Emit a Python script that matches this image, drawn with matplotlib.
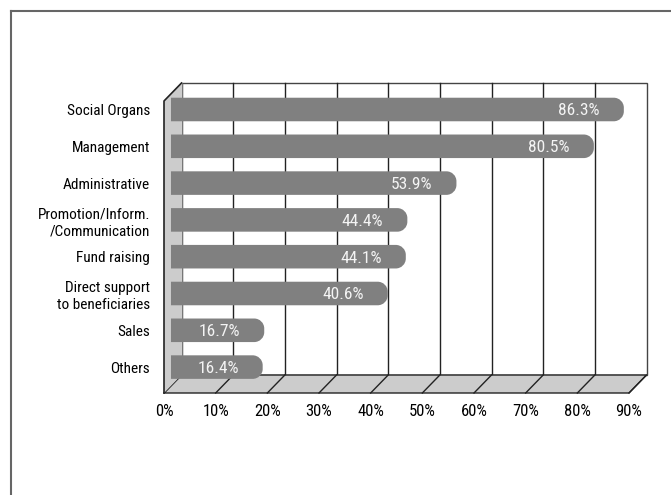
import matplotlib
matplotlib.use('Agg')
import matplotlib.pyplot as plt
from matplotlib import font_manager
from matplotlib.path import Path
from matplotlib.patches import PathPatch, Polygon
from matplotlib.lines import Line2D

categories = ['Social Organs', 'Management', 'Administrative',
              'Promotion/Inform.\n/Communication', 'Fund raising',
              'Direct support\nto beneficiaries', 'Sales', 'Others']
values = [86.3, 80.5, 53.9, 44.4, 44.1, 40.6, 16.7, 16.4]
xticks = [0, 10, 20, 30, 40, 50, 60, 70, 80, 90]
xtick_labels = ['%d%%' % t for t in xticks]

# narrow sans if we have one
installed = {f.name for f in font_manager.fontManager.ttflist}
for fam in ['Liberation Sans Narrow', 'Roboto Condensed', 'Roboto', 'DejaVu Sans']:
    if fam in installed:
        plt.rcParams['font.family'] = [fam, 'DejaVu Sans']
        break

W, H = 671, 495
fig = plt.figure(figsize=(W / 100, H / 100), dpi=100)
# front plane of the box: 0% at x=164px, 90% at x=629px, floor front at y=393px, top at y=83px
ax = fig.add_axes([164 / W, 1 - 393 / H, 465 / W, 310 / H])
n = len(categories)
y_front = 7.704
y_top = -0.72
ax.set_xlim(0, 90)
ax.set_ylim(y_front, y_top)
for s in ax.spines.values():
    s.set_visible(False)

dx = 3.39    # depth offset in % units
dy = 0.489   # depth offset in rows

grey = '#cccccc'
edge = '#222222'

# back wall
ax.add_patch(Polygon([(dx, y_front - dy), (90 + dx, y_front - dy), (90 + dx, y_top), (dx, y_top)],
                     closed=True, facecolor='white', edgecolor='#444444', lw=1.0,
                     clip_on=False, zorder=1))
for t in xticks[1:-1]:
    ax.add_line(Line2D([t + dx, t + dx], [y_front - dy, y_top], color=edge, lw=1.0,
                       clip_on=False, zorder=1))

# floor
ax.add_patch(Polygon([(0, y_front), (90, y_front), (90 + dx, y_front - dy), (dx, y_front - dy)],
                     closed=True, facecolor=grey, edgecolor=edge, lw=1.0,
                     clip_on=False, zorder=1.5))
for t in xticks:
    ax.add_line(Line2D([t, t + dx], [y_front, y_front - dy], color=edge, lw=1.0,
                       clip_on=False, zorder=1.6))

# left wall
ax.add_patch(Polygon([(0, y_front), (0, y_top + dy), (dx, y_top), (dx, y_front - dy)],
                     closed=True, facecolor=grey, edgecolor='none', clip_on=False, zorder=1.7))
ax.add_line(Line2D([dx, dx], [y_top, y_front - dy], color='#777777', lw=0.8,
                   clip_on=False, zorder=1.8))
ax.add_line(Line2D([0, 0, dx], [y_front, y_top + dy, y_top], color=edge, lw=1.2,
                   clip_on=False, zorder=1.9))

# bars with a rounded right end
x0 = 1.35
cap = 1.35
half = 0.32
rx, ry = 1.94, 0.27
k = 0.5523
for i, v in enumerate(values):
    x1 = x0 + v + cap
    top, bot = i - half, i + half
    verts = [(x0, top), (x1 - rx, top),
             (x1 - rx + k * rx, top), (x1, top + ry - k * ry), (x1, top + ry),
             (x1, bot - ry),
             (x1, bot - ry + k * ry), (x1 - rx + k * rx, bot), (x1 - rx, bot),
             (x0, bot), (x0, top)]
    codes = [Path.MOVETO, Path.LINETO,
             Path.CURVE4, Path.CURVE4, Path.CURVE4,
             Path.LINETO,
             Path.CURVE4, Path.CURVE4, Path.CURVE4,
             Path.LINETO, Path.CLOSEPOLY]
    ax.add_patch(PathPatch(Path(verts, codes), facecolor='#808080', edgecolor='none',
                           clip_on=False, zorder=3))
    ax.text(x1 - 4.64, i, '%.1f%%' % v, ha='right', va='center_baseline',
            color='#f4f4f4', fontsize=12.5, zorder=4, clip_on=False)

ax.set_yticks(range(n))
ax.set_yticklabels(categories, fontsize=11, linespacing=1.25)
ax.set_xticks(xticks)
ax.set_xticklabels(xtick_labels, fontsize=12)
ax.tick_params(axis='y', length=0, pad=10)
ax.tick_params(axis='x', length=0, pad=8)

# outer frame (left and top edges, runs off the page)
fig.add_artist(Line2D([11 / W, 11 / W], [0, 1 - 11 / H], color='#666666', lw=1.5))
fig.add_artist(Line2D([11 / W, 1], [1 - 11 / H, 1 - 11 / H], color='#666666', lw=1.5))

fig.savefig('out.png', dpi=100)
